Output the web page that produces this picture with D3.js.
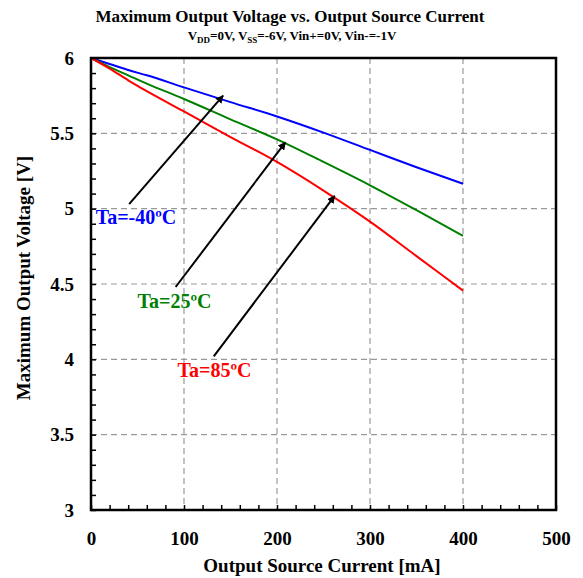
<!DOCTYPE html>
<html>
<head>
<meta charset="utf-8">
<style>
body{margin:0;background:#fff;font-family:"Liberation Serif","Times New Roman",serif;}
.grid line{stroke:#999;stroke-width:1.2;stroke-dasharray:6,4;}
.tick text{font-family:"Liberation Serif",serif;font-weight:bold;font-size:19px;fill:#000;}
.series{fill:none;stroke-width:2;}
.arrow{stroke:#000;stroke-width:2;}
.ann{font-weight:bold;font-size:20px;}
</style>
</head>
<body>
<svg id="chart"></svg>
<script src="https://cdn.jsdelivr.net/npm/d3@7/dist/d3.min.js"></script>
<script>

// source current, mA
var currents = [0, 20, 40, 60, 100, 150, 200, 250, 300, 350, 400];
var vMinus40 = [6, 5.96, 5.92, 5.885, 5.805, 5.707, 5.612, 5.505, 5.39, 5.275, 5.165];
var v25      = [6, 5.94, 5.885, 5.83, 5.728, 5.593, 5.46, 5.31, 5.155, 4.99, 4.82];
var v85      = [6, 5.93, 5.852, 5.78, 5.645, 5.475, 5.31, 5.12, 4.914, 4.685, 4.456];

var seriesNames  = ["Ta=-40ºC", "Ta=25ºC", "Ta=85ºC"];
var seriesColors = ["#0000ff", "#008000", "#ff0000"];

// arrow annotations: [labelEndX, labelEndY, curveX, curveY] in data units
var arrowData = [
  [41, 5.03, 142, 5.75],
  [91, 4.48, 209, 5.44],
  [132, 4.02, 262, 5.085]
];
var labelPos = [[5, 4.9], [50, 4.34], [93, 3.885]];

var xTicks = [0, 100, 200, 300, 400, 500];
var yTicks = [3, 3.5, 4, 4.5, 5, 5.5, 6];

function buildChart(){
    var W = 583, H = 578;
    var margin = {top: 58, right: 27, bottom: 68, left: 91};
    var width  = W - margin.left - margin.right;
    var height = H - margin.top - margin.bottom;

    var root = d3.select("#chart").attr("width", W).attr("height", H);

    var x = d3.scaleLinear().domain([0, 500]).range([0, width]);
    var y = d3.scaleLinear().domain([3, 6]).range([height, 0]);

    var svg = root.append("g")
        .attr("transform", "translate(" + margin.left + "," + margin.top + ")");

    // dashed grid
    var grid = svg.append("g").attr("class", "grid");
    grid.selectAll(".gx").data(xTicks.slice(1, -1)).enter().append("line")
        .attr("x1", d => x(d)).attr("x2", d => x(d))
        .attr("y1", 0).attr("y2", height);
    grid.selectAll(".gy").data(yTicks.slice(1, -1)).enter().append("line")
        .attr("y1", d => y(d)).attr("y2", d => y(d))
        .attr("x1", 0).attr("x2", width);

    // minor ticks, inside
    svg.append("g")
        .call(d3.axisBottom(x).tickValues(d3.range(0, 501, 20)).tickSize(-5).tickFormat(""))
        .attr("transform", "translate(0," + height + ")")
        .call(g => g.select(".domain").remove())
        .selectAll("line").attr("stroke", "#000").attr("stroke-width", 1.5);
    svg.append("g")
        .call(d3.axisLeft(y).tickValues(d3.range(30, 61).map(d => d / 10)).tickSize(-5).tickFormat(""))
        .call(g => g.select(".domain").remove())
        .selectAll("line").attr("stroke", "#000").attr("stroke-width", 1.5);

    // tick labels
    svg.append("g")
        .attr("transform", "translate(0," + height + ")")
        .call(d3.axisBottom(x).tickValues(xTicks).tickSize(0).tickPadding(22).tickFormat(d3.format("d")))
        .call(g => g.select(".domain").remove());
    svg.append("g")
        .call(d3.axisLeft(y).tickValues(yTicks).tickSize(0).tickPadding(17).tickFormat(d => d))
        .call(g => g.select(".domain").remove());

    // curves
    var line = d3.line().x(d => x(d[0])).y(d => y(d[1])).curve(d3.curveMonotoneX);
    [vMinus40, v25, v85].forEach(function(vals, i){
        svg.append("path")
            .datum(currents.map((c, j) => [c, vals[j]]))
            .attr("class", "series")
            .attr("stroke", seriesColors[i])
            .attr("d", line);
    });

    // frame
    svg.append("rect")
        .attr("width", width).attr("height", height)
        .attr("fill", "none").attr("stroke", "#000").attr("stroke-width", 2.5);

    // arrows
    root.append("defs").append("marker")
        .attr("id", "head").attr("viewBox", "0 0 10 10")
        .attr("refX", 9).attr("refY", 5)
        .attr("markerWidth", 4).attr("markerHeight", 4)
        .attr("orient", "auto")
        .append("path").attr("d", "M0,0L10,5L0,10z").attr("fill", "#000");

    svg.selectAll(".arrow").data(arrowData).enter().append("line")
        .attr("class", "arrow")
        .attr("x1", d => x(d[0])).attr("y1", d => y(d[1]))
        .attr("x2", d => x(d[2])).attr("y2", d => y(d[3]))
        .attr("marker-end", "url(#head)");

    svg.selectAll(".ann").data(seriesNames).enter().append("text")
        .attr("class", "ann")
        .attr("x", (d, i) => x(labelPos[i][0]))
        .attr("y", (d, i) => y(labelPos[i][1]))
        .attr("fill", (d, i) => seriesColors[i])
        .text(d => d);

    // titles
    root.append("text")
        .attr("x", 290).attr("y", 22)
        .attr("text-anchor", "middle")
        .attr("font-weight", "bold").attr("font-size", 17)
        .text("Maximum Output Voltage vs. Output Source Current");

    var sub = root.append("text")
        .attr("x", 292).attr("y", 40)
        .attr("text-anchor", "middle")
        .attr("font-weight", "bold").attr("font-size", 13);
    sub.append("tspan").text("V");
    sub.append("tspan").attr("font-size", 9).attr("dy", 3).text("DD");
    sub.append("tspan").attr("dy", -3).text("=0V, V");
    sub.append("tspan").attr("font-size", 9).attr("dy", 3).text("SS");
    sub.append("tspan").attr("dy", -3).text("=-6V, Vin+=0V, Vin-=-1V");

    root.append("text")
        .attr("x", 322).attr("y", 572)
        .attr("text-anchor", "middle")
        .attr("font-weight", "bold").attr("font-size", 19)
        .text("Output Source Current [mA]");

    root.append("text")
        .attr("transform", "translate(30,278) rotate(-90)")
        .attr("text-anchor", "middle")
        .attr("font-weight", "bold").attr("font-size", 19)
        .text("Maximum Output Voltage [V]");
}

buildChart();

</script>
</body>
</html>
